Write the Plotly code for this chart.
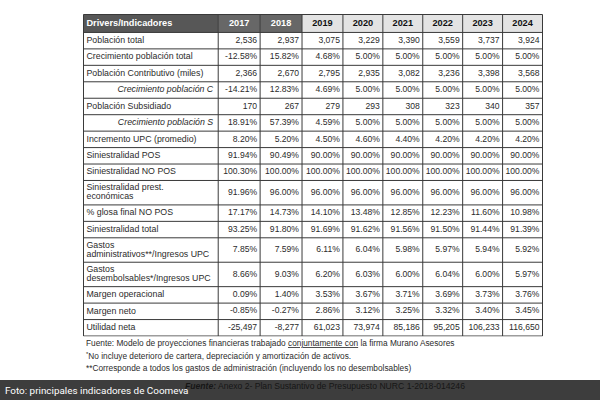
import plotly.graph_objects as go

years = ["2017", "2018", "2019", "2020", "2021", "2022", "2023", "2024"]
header_label = "Drivers/Indicadores"

labels = [
    "Población total",
    "Crecimiento población total",
    "Población Contributivo (miles)",
    "Crecimiento población C",
    "Población Subsidiado",
    "Crecimiento población S",
    "Incremento UPC (promedio)",
    "Siniestralidad POS",
    "Siniestralidad NO POS",
    "Siniestralidad prest.\neconómicas",
    "% glosa final NO POS",
    "Siniestralidad total",
    "Gastos\nadministrativos**/Ingresos UPC",
    "Gastos\ndesembolsables*/Ingresos UPC",
    "Margen operacional",
    "Margen neto",
    "Utilidad neta",
]
italic_rows = ["Crecimiento población C", "Crecimiento población S"]
# kind: "n" = integer with thousands separator, "p" = percentage
kinds = ["n", "p", "n", "p", "n", "p", "p", "p", "p", "p", "p", "p", "p", "p", "p", "p", "n"]

poblacion_total = [2536, 2937, 3075, 3229, 3390, 3559, 3737, 3924]
crec_total = [-12.58, 15.82, 4.68, 5.00, 5.00, 5.00, 5.00, 5.00]
poblacion_contributivo = [2366, 2670, 2795, 2935, 3082, 3236, 3398, 3568]
crec_c = [-14.21, 12.83, 4.69, 5.00, 5.00, 5.00, 5.00, 5.00]
poblacion_subsidiado = [170, 267, 279, 293, 308, 323, 340, 357]
crec_s = [18.91, 57.39, 4.59, 5.00, 5.00, 5.00, 5.00, 5.00]
incremento_upc = [8.20, 5.20, 4.50, 4.60, 4.40, 4.20, 4.20, 4.20]
sin_pos = [91.94, 90.49, 90.00, 90.00, 90.00, 90.00, 90.00, 90.00]
sin_no_pos = [100.30, 100.00, 100.00, 100.00, 100.00, 100.00, 100.00, 100.00]
sin_prest = [91.96, 96.00, 96.00, 96.00, 96.00, 96.00, 96.00, 96.00]
glosa = [17.17, 14.73, 14.10, 13.48, 12.85, 12.23, 11.60, 10.98]
sin_total = [93.25, 91.80, 91.69, 91.62, 91.56, 91.50, 91.44, 91.39]
gastos_admin = [7.85, 7.59, 6.11, 6.04, 5.98, 5.97, 5.94, 5.92]
gastos_desemb = [8.66, 9.03, 6.20, 6.03, 6.00, 6.04, 6.00, 5.97]
margen_op = [0.09, 1.40, 3.53, 3.67, 3.71, 3.69, 3.73, 3.76]
margen_neto = [-0.85, -0.27, 2.86, 3.12, 3.25, 3.32, 3.40, 3.45]
utilidad_neta = [-25497, -8277, 61023, 73974, 85186, 95205, 106233, 116650]

rows = [poblacion_total, crec_total, poblacion_contributivo, crec_c, poblacion_subsidiado,
        crec_s, incremento_upc, sin_pos, sin_no_pos, sin_prest, glosa, sin_total,
        gastos_admin, gastos_desemb, margen_op, margen_neto, utilidad_neta]

footnotes = [
    "Fuente: Modelo de proyecciones financieras trabajado <u>conjuntamente con</u> la firma Murano Asesores",
    "<sup>*</sup>No incluye deterioro de cartera, depreciación y amortización de activos.",
    "**Corresponde a todos los gastos de administración (incluyendo los no desembolsables)",
]
source_text = "<b><i>Fuente:</i></b> Anexo 2- Plan Sustantivo de Presupuesto NURC 1-2018-014246"
caption_text = "Foto: principales indicadores de Coomeva"

# ---------------- layout / style parameters ----------------
FONT = "Liberation Sans, Arial"
TXT = "#2b2b2b"
GRID = "#3a3a3a"
col_widths = [135, 42, 42, 41, 40, 40, 40, 40, 40]
header_h = 18
single_h = 16.5
double_h = 24.5
pad = 3


def fmt(v, k):
    return f"{v:,.0f}" if k == "n" else f"{v:.2f}%"


# cumulative geometry in table units (1 unit = 1 px)
xb = [0]
for w in col_widths:
    xb.append(xb[-1] + w)
row_h = [header_h] + [double_h if "\n" in l else single_h for l in labels]
yb = [0]
for h in row_h:
    yb.append(yb[-1] + h)
W, H = xb[-1], yb[-1]
yc = [(yb[i] + yb[i + 1]) / 2 for i in range(len(row_h))]

fig = go.Figure()

# header fills
header_fill = ["#575757", "#676767", "#676767"] + ["#e3e3e3"] * 6
for j, c in enumerate(header_fill):
    fig.add_shape(type="rect", xref="x", yref="y", x0=xb[j], x1=xb[j + 1], y0=0, y1=header_h,
                  fillcolor=c, line_width=0, layer="below")

# grid lines
gx, gy = [], []
for x in xb:
    gx += [x, x, None]
    gy += [0, H, None]
for y in yb:
    gx += [0, W, None]
    gy += [y, y, None]
fig.add_trace(go.Scatter(x=gx, y=gy, mode="lines", line=dict(color=GRID, width=1),
                         hoverinfo="skip", showlegend=False))

# header texts
hx = [xb[0] + pad] + [(xb[j + 1] + xb[j + 2]) / 2 for j in range(len(years))]
htext = [f"<b>{header_label}</b>"] + [f"<b>{y}</b>" for y in years]
hcolor = ["white", "white", "white"] + ["#111111"] * 6
hpos = ["middle right"] + ["middle center"] * len(years)
fig.add_trace(go.Scatter(x=hx, y=[yc[0]] * len(hx), mode="text", text=htext,
                         textposition=hpos,
                         textfont=dict(family=FONT, size=9.2, color=hcolor),
                         hoverinfo="skip", showlegend=False))

# label texts
lx, ly, lt, lp = [], [], [], []
for i, l in enumerate(labels):
    c = yc[i + 1]
    if l in italic_rows:
        lx.append(xb[1] - 5)
        ly.append(c)
        lt.append(f"<i>{l}</i>")
        lp.append("middle left")
    else:
        parts = l.split("\n")
        n = len(parts)
        for k, p in enumerate(parts):
            lx.append(xb[0] + pad)
            ly.append(c + (k - (n - 1) / 2) * 9)
            lt.append(p)
            lp.append("middle right")
fig.add_trace(go.Scatter(x=lx, y=ly, mode="text", text=lt, textposition=lp,
                         textfont=dict(family=FONT, size=8.8, color=TXT),
                         hoverinfo="skip", showlegend=False))

# value texts
vx, vy, vt = [], [], []
for i, (r, k) in enumerate(zip(rows, kinds)):
    for j, v in enumerate(r):
        vx.append(xb[j + 2] - pad)
        vy.append(yc[i + 1])
        vt.append(fmt(v, k))
fig.add_trace(go.Scatter(x=vx, y=vy, mode="text", text=vt, textposition="middle left",
                         textfont=dict(family=FONT, size=8.6, color=TXT),
                         hoverinfo="skip", showlegend=False))

# footnotes
for y, t in zip([343, 356, 368], footnotes):
    fig.add_annotation(x=84 / 600, y=1 - y / 400, xref="paper", yref="paper", text=t,
                       showarrow=False, xanchor="left", yanchor="middle",
                       font=dict(family=FONT, size=8.3, color=TXT))

# bottom caption band
fig.add_shape(type="rect", xref="paper", yref="paper", x0=0, x1=1, y0=0, y1=1 - 380 / 400,
              fillcolor="#3d3d3d", line_width=0, layer="below")
fig.add_annotation(x=183 / 600, y=1 - 386 / 400, xref="paper", yref="paper", text=source_text,
                   showarrow=False, xanchor="left", yanchor="middle",
                   font=dict(family=FONT, size=8.6, color="#161616"))
fig.add_annotation(x=3 / 600, y=1 - 390.5 / 400, xref="paper", yref="paper", text=caption_text,
                   showarrow=False, xanchor="left", yanchor="middle",
                   font=dict(family="Roboto, sans-serif", size=9.9, color="white"))

fig.update_layout(
    width=600, height=400, margin=dict(l=0, r=0, t=0, b=0),
    paper_bgcolor="white", plot_bgcolor="white",
    xaxis=dict(domain=[83 / 600, (83 + W) / 600], range=[-0.5, W + 0.5], visible=False, fixedrange=True),
    yaxis=dict(domain=[1 - (14 + H) / 400, 1 - 14 / 400], range=[H + 0.5, -0.5], visible=False,
               fixedrange=True),
)
fig.write_html("out.html", config={"displayModeBar": False},
               post_script="document.body.style.margin='0';document.body.style.overflow='hidden';")
